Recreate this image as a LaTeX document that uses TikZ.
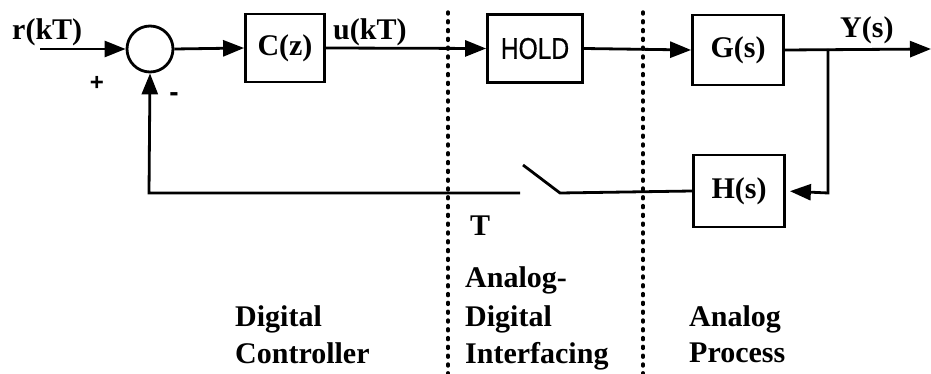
\documentclass[tikz,border=0pt]{standalone}
\usepackage{fontspec}
\usetikzlibrary{arrows.meta}
\newfontfamily\lblfont{Liberation Serif}
\newfontfamily\holdfont[FakeStretch=0.82,FakeBold=0.6]{Liberation Sans}
\newfontfamily\signfont{Liberation Sans}
\begin{document}
\begin{tikzpicture}[x=1pt,y=-1pt,
  every node/.style={font=\lblfont\bfseries\fontsize{30}{36}\selectfont, inner sep=0pt},
  wire/.style={line width=2.8pt},
  sig/.style={wire, -{Triangle[length=21pt,width=16pt]}},
  blockbox/.style={draw, line width=2.8pt, minimum width=#1, minimum height=68pt},
  sumjunc/.style={draw, circle, line width=2.8pt, minimum size=46pt},
  boundary/.style={line width=3.4pt, line cap=round, dash pattern=on 2pt off 6.8pt},
  txt/.style={anchor=base west}]
\useasboundingbox (0,0) rectangle (931,374);

% blocks
\node[sumjunc] (sum) at (150,49) {};
\node[blockbox=79pt] (C) at (285,48) {C(z)};
\node[blockbox=95pt, font=\holdfont\fontsize{30}{36}\selectfont] (hold) at (535,48.5) {HOLD};
\node[blockbox=91pt, minimum height=70pt] (G) at (738,50) {G(s)};
\node[blockbox=91pt, minimum height=72pt] (H) at (739,191) {H(s)};

% signal labels
\node[txt] (rlbl) at (12,40) {r(kT)};
\node[txt] (ulbl) at (333,40) {u(kT)};
\node[txt] (ylbl) at (840,38) {Y(s)};
\node (plus) at (97,83) {\signfont\bfseries\fontsize{24}{26}\selectfont +};
\node (minus) at (174,97) {\signfont\bfseries\fontsize{28}{30}\selectfont -};
\node[anchor=base] (Tlbl) at (480,235) {T};

% connection points
\coordinate (rin) at (40,49);
\coordinate (junc) at (828,49);
\coordinate (yout) at (931,49);
\coordinate (fbcorner) at (828,193);
\coordinate (swR) at (560,193);
\coordinate (swB) at (523,165);
\coordinate (swL) at (520,193);
\coordinate (fbleft) at (149,193);

% forward path
\draw[sig] (rin) -- (sum.west);
\draw[sig] (sum.east) -- (C.west);
\draw[sig] (C.east) -- (hold.west);
\draw[sig] (hold.east) -- (G.west);
\draw[sig] (G.east) -- (yout);

% feedback path with sampler switch
\draw[sig, shorten >=4pt] (junc) -- (fbcorner) -- (H.east);
\draw[wire] (H.west) -- (swR) -- (swB);
\draw[sig] (swL) -- (fbleft) -- (sum.south);

% region boundaries
\coordinate (b1top) at (448,12);
\coordinate (b1bot) at (448,374);
\coordinate (b2top) at (643,12);
\coordinate (b2bot) at (643,374);
\draw[boundary] (b1top) -- (b1bot);
\draw[boundary] (b2top) -- (b2bot);

% region captions
\node[txt] (dc1) at (235,326) {Digital};
\node[txt] (dc2) at (235,363) {Controller};
\node[txt] (ad1) at (465,287) {Analog-};
\node[txt] (ad2) at (465,326) {Digital};
\node[txt] (ad3) at (465,363) {Interfacing};
\node[txt] (ap1) at (689,326) {Analog};
\node[txt] (ap2) at (689,362) {Process};
\end{tikzpicture}
\end{document}
